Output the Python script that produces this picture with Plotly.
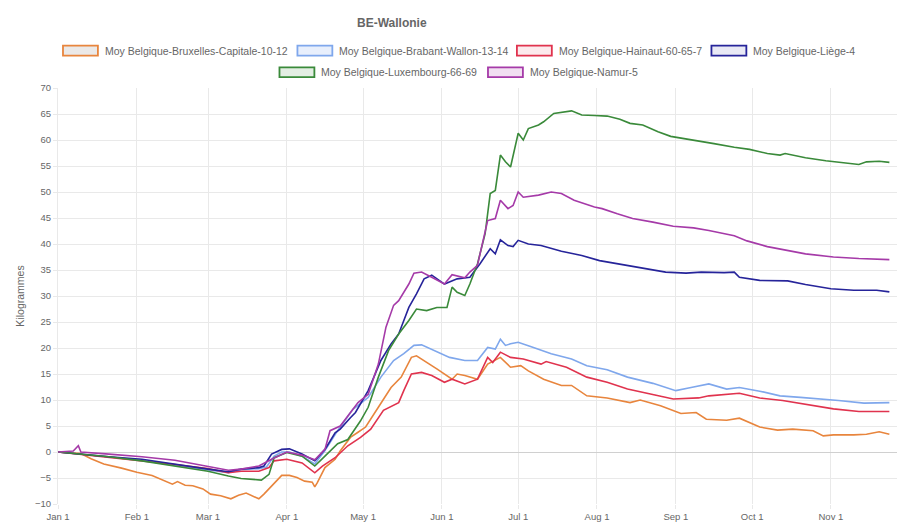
import pandas as pd
import plotly.graph_objects as go

BASE = "2021-01-01"

series_names = [
    "Moy Belgique-Bruxelles-Capitale-10-12",
    "Moy Belgique-Brabant-Wallon-13-14",
    "Moy Belgique-Hainaut-60-65-7",
    "Moy Belgique-Liège-4",
    "Moy Belgique-Luxembourg-66-69",
    "Moy Belgique-Namur-5",
]
series_colors = ["#e8853d", "#7fa7ec", "#e0334e", "#26249a", "#3a8a3a", "#a53aa8"]
legend_fills = ["rgba(120,110,100,0.15)", "rgba(127,167,236,0.18)", "rgba(224,51,78,0.10)",
                "rgba(38,36,154,0.10)", "rgba(58,138,58,0.14)", "rgba(165,58,168,0.16)"]

# day offsets from Jan 1 and values (kg)
bx_days = [0, 5, 9, 13, 18, 25, 31, 37, 42, 45, 47, 50, 53, 57, 60, 64, 68, 71, 74, 76, 79, 81, 84, 88, 91, 94, 97, 100, 101, 102, 105, 109, 111, 115, 118, 121, 126, 131, 135, 139, 141, 143, 146, 149, 155, 157, 160, 165, 169, 174, 178, 182, 185, 191, 198, 202, 208, 216, 225, 229, 237, 245, 251, 255, 263, 268, 276, 283, 289, 297, 301, 305, 313, 318, 323, 327]
bx_vals = [0, -0.1, -0.3, -1.3, -2.3, -3.1, -3.9, -4.5, -5.5, -6.2, -5.7, -6.4, -6.5, -7.1, -8.1, -8.4, -9.0, -8.3, -7.9, -8.3, -9.0, -8.1, -6.5, -4.5, -4.5, -4.9, -5.6, -5.8, -6.7, -5.9, -3.0, -1.4, 0.2, 2.8, 3.8, 4.8, 8.6, 12.4, 14.4, 18.2, 18.5, 17.9, 17.0, 16.0, 14.0, 15.0, 14.7, 14.0, 16.9, 18.2, 16.3, 16.6, 15.6, 14.0, 12.8, 12.8, 10.8, 10.4, 9.5, 10.0, 8.9, 7.4, 7.6, 6.3, 6.1, 6.5, 4.8, 4.2, 4.4, 4.1, 3.1, 3.3, 3.3, 3.4, 3.9, 3.4]

bw_days = [0, 10, 20, 33, 46, 59, 67, 72, 79, 82, 85, 88, 91, 96, 101, 105, 110, 116, 122, 127, 132, 136, 140, 143, 148, 154, 160, 165, 169, 172, 174, 176, 178, 181, 187, 194, 202, 208, 216, 224, 234, 239, 243, 249, 256, 263, 268, 276, 284, 292, 300, 307, 317, 327]
bw_vals = [0, -0.5, -1.0, -1.6, -2.6, -3.5, -4.0, -3.4, -3.2, -2.9, -0.8, 0.0, 0.0, -0.8, -2.3, 0.3, 4.1, 8.2, 10.5, 14.4, 17.6, 18.9, 20.5, 20.6, 19.5, 18.2, 17.6, 17.6, 20.1, 19.8, 21.7, 20.5, 20.8, 21.1, 20.1, 18.9, 17.9, 16.6, 15.8, 14.4, 13.2, 12.4, 11.8, 12.4, 13.1, 12.1, 12.4, 11.7, 10.8, 10.5, 10.2, 9.9, 9.4, 9.5]

hn_days = [0, 10, 20, 33, 46, 59, 67, 72, 79, 83, 85, 90, 96, 101, 104, 109, 114, 119, 123, 128, 134, 136, 139, 143, 147, 152, 155, 160, 165, 169, 171, 174, 178, 183, 185, 190, 192, 200, 208, 216, 224, 232, 242, 252, 256, 268, 276, 285, 294, 305, 315, 327]
hn_vals = [0, -0.5, -1.1, -1.7, -2.4, -3.2, -4.0, -3.7, -3.7, -3.0, -1.7, -1.4, -2.1, -4.0, -2.7, -1.1, 1.2, 2.8, 4.4, 8.0, 9.5, 11.8, 15.0, 15.3, 14.7, 13.4, 14.0, 13.1, 14.0, 18.2, 17.2, 19.2, 18.2, 17.9, 17.6, 16.9, 17.4, 16.3, 14.4, 13.4, 12.1, 11.3, 10.2, 10.4, 10.8, 11.3, 10.4, 9.9, 9.2, 8.3, 7.8, 7.8]

lg_days = [0, 10, 20, 33, 46, 59, 67, 72, 79, 81, 84, 88, 91, 96, 101, 105, 109, 111, 115, 117, 122, 127, 131, 134, 138, 141, 144, 147, 152, 157, 162, 166, 170, 172, 174, 177, 179, 181, 185, 190, 198, 206, 213, 221, 230, 239, 247, 253, 262, 266, 268, 276, 287, 294, 304, 313, 322, 327]
lg_vals = [0, -0.5, -0.9, -1.4, -2.4, -3.3, -3.8, -3.3, -3.0, -2.7, -0.4, 0.5, 0.6, -0.4, -1.7, 0.5, 3.7, 4.4, 6.6, 7.6, 11.8, 17.6, 20.8, 22.7, 27.8, 30.4, 33.3, 34.0, 32.3, 33.3, 33.6, 36.2, 39.1, 38.1, 40.8, 39.7, 39.5, 40.7, 40.0, 39.7, 38.6, 37.8, 36.8, 36.1, 35.4, 34.6, 34.4, 34.6, 34.5, 34.6, 33.6, 33.0, 32.9, 32.2, 31.4, 31.1, 31.1, 30.8]

lx_days = [0, 10, 20, 33, 46, 59, 67, 72, 80, 83, 85, 90, 96, 101, 105, 110, 114, 117, 119, 122, 126, 130, 134, 138, 141, 145, 149, 153, 155, 157, 160, 162, 165, 168, 170, 172, 174, 176, 178, 181, 183, 185, 189, 191, 195, 202, 206, 211, 216, 221, 225, 230, 236, 241, 246, 253, 258, 266, 272, 279, 284, 286, 294, 302, 307, 315, 318, 323, 327]
lx_vals = [0, -0.4, -0.9, -1.7, -2.7, -3.7, -4.6, -5.1, -5.4, -4.3, -1.1, -0.1, -0.8, -2.7, -0.8, 1.6, 2.4, 4.7, 6.0, 8.6, 14.4, 19.5, 22.7, 25.3, 27.5, 27.2, 27.8, 27.8, 31.7, 30.7, 30.1, 32.3, 36.2, 42.0, 49.7, 50.3, 57.1, 55.8, 54.8, 61.3, 60.0, 62.2, 62.9, 63.5, 65.1, 65.6, 64.8, 64.7, 64.6, 64.0, 63.2, 62.9, 61.6, 60.7, 60.3, 59.8, 59.3, 58.6, 58.2, 57.4, 57.1, 57.4, 56.6, 56.0, 55.7, 55.3, 55.8, 55.9, 55.7]

nm_days = [0, 6, 8, 9, 20, 33, 46, 59, 67, 72, 79, 84, 90, 96, 101, 105, 107, 111, 114, 118, 122, 126, 129, 132, 134, 138, 140, 143, 147, 152, 155, 160, 162, 165, 166, 169, 172, 174, 177, 179, 181, 183, 189, 194, 198, 203, 211, 214, 220, 226, 234, 242, 250, 256, 266, 271, 279, 287, 294, 305, 315, 327]
nm_vals = [0, 0.2, 1.2, 0.0, -0.4, -0.9, -1.6, -2.7, -3.5, -3.3, -2.7, -1.4, 0.0, -0.6, -1.5, 0.5, 4.1, 5.0, 7.0, 9.5, 11.1, 16.9, 24.0, 28.2, 29.1, 32.3, 34.4, 34.6, 33.6, 32.3, 34.1, 33.5, 34.6, 35.9, 38.1, 44.5, 44.9, 48.4, 46.8, 47.4, 50.0, 49.0, 49.4, 50.0, 49.7, 48.4, 47.1, 46.8, 45.8, 44.9, 44.2, 43.4, 43.1, 42.6, 41.6, 40.6, 39.5, 38.8, 38.1, 37.5, 37.2, 37.0]

all_days = [bx_days, bw_days, hn_days, lg_days, lx_days, nm_days]
all_vals = [bx_vals, bw_vals, hn_vals, lg_vals, lx_vals, nm_vals]

x_ticks = ["2021-01-01", "2021-02-01", "2021-03-01", "2021-04-01", "2021-05-01", "2021-06-01",
           "2021-07-01", "2021-08-01", "2021-09-01", "2021-10-01", "2021-11-01"]
x_ticktext = ["Jan 1", "Feb 1", "Mar 1", "Apr 1", "May 1", "Jun 1", "Jul 1", "Aug 1", "Sep 1", "Oct 1", "Nov 1"]

W, H = 911, 526
ML, MR, MT, MB = 48, 22, 80, 23
PW, PH = W - ML - MR, H - MT - MB
OFF = 8  # page offset observed in the rendering

def px_x(px):
    return (px - OFF - ML) / PW

def px_y(py):
    return (H - MB - (py - OFF)) / PH

FONT = "Liberation Sans, Arial, sans-serif"
GREY = "#666666"

fig = go.Figure()
base = pd.Timestamp(BASE)
for name, color, d, v in zip(series_names, series_colors, all_days, all_vals):
    dates = base + pd.to_timedelta(d, unit="D")
    fig.add_trace(go.Scatter(x=dates, y=v, mode="lines", name=name,
                             line=dict(color=color, width=1.6), showlegend=False))

# manual legend (two centered rows)
legend_pos = [(61, 50), (296, 50), (516, 50), (711, 50), (278, 72), (487, 72)]
BOX_W, BOX_H, TXT_DX = 35, 10, 40
shapes = []
annotations = []
for (bx, by), name, color, fill in zip(legend_pos, series_names, series_colors, legend_fills):
    shapes.append(dict(type="rect", xref="paper", yref="paper",
                       x0=px_x(bx), x1=px_x(bx + BOX_W), y0=px_y(by + BOX_H / 2), y1=px_y(by - BOX_H / 2),
                       line=dict(color=color, width=1.8), fillcolor=fill))
    annotations.append(dict(xref="paper", yref="paper", x=px_x(bx + TXT_DX), y=px_y(by),
                            xanchor="left", yanchor="middle", showarrow=False, text=name,
                            font=dict(family=FONT, size=10.5, color=GREY)))
annotations.append(dict(xref="paper", yref="paper", x=px_x(391), y=px_y(22),
                        xanchor="center", yanchor="middle", showarrow=False,
                        text="<b>BE-Wallonie</b>", font=dict(family=FONT, size=12, color=GREY)))

fig.update_layout(
    width=W, height=H, margin=dict(l=ML, r=MR, t=MT, b=MB),
    paper_bgcolor="white", plot_bgcolor="white",
    font=dict(family=FONT, color=GREY),
    shapes=shapes, annotations=annotations, showlegend=False,
)
fig.update_xaxes(type="date", range=["2021-01-01", "2021-11-27"],
                 tickvals=x_ticks, ticktext=x_ticktext,
                 showgrid=True, gridcolor="#e9e9e9", gridwidth=1,
                 showline=False, zeroline=False, ticks="outside", ticklen=4, tickcolor="#e9e9e9",
                 tickfont=dict(family=FONT, size=9.5, color=GREY))
fig.update_yaxes(range=[-10, 70], dtick=5, tick0=0,
                 showgrid=True, gridcolor="#e9e9e9", gridwidth=1,
                 zeroline=True, zerolinecolor="#d0d0d0", zerolinewidth=1,
                 showline=True, linecolor="#e9e9e9",
                 ticks="outside", ticklen=4, tickcolor="#e9e9e9",
                 tickfont=dict(family=FONT, size=9.5, color=GREY),
                 title=dict(text="Kilogrammes", standoff=8, font=dict(family=FONT, size=10.5, color=GREY)))

fig.write_html("out.html")
